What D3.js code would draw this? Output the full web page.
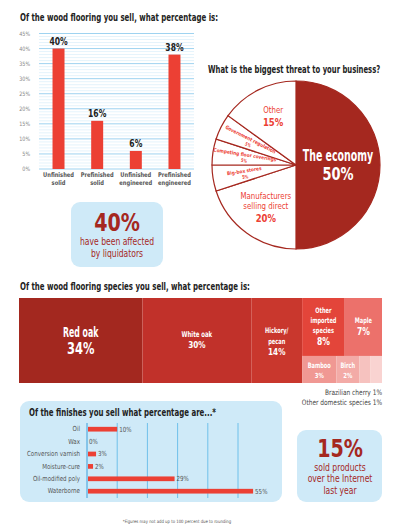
<!DOCTYPE html>
<html>
<head>
<meta charset="utf-8">
<script src="https://cdn.jsdelivr.net/npm/d3@7"></script>
<style>
  body { margin: 0; background: #fff; }
  svg { display: block; }
  text { font-family: "Liberation Sans Narrow", "DejaVu Sans Condensed", "Roboto", sans-serif; }
</style>
</head>
<body>
<script>
// --- data ---
const floorTypes = ['Unfinished|solid', 'Prefinished|solid', 'Unfinished|engineered', 'Prefinished|engineered'];
const floorShares = [40, 16, 6, 38];
const floorTicks = [0, 5, 10, 15, 20, 25, 30, 35, 40, 45];

const threats = ['The economy', 'Manufacturers selling direct', 'Big-box stores', 'Competing floor coverings', 'Government regulation', 'Other'];
const threatShares = [50, 20, 5, 5, 5, 15];

const species = ['Red oak', 'White oak', 'Hickory/ pecan', 'Other imported species', 'Maple', 'Bamboo', 'Birch', 'Brazilian cherry', 'Other domestic species'];
const speciesShares = [34, 30, 14, 8, 7, 3, 2, 1, 1];

const finishes = ['Oil', 'Wax', 'Conversion varnish', 'Moisture-cure', 'Oil-modified poly', 'Waterborne'];
const finishShares = [10, 0, 3, 2, 29, 55];
const finishTicks = [0, 10, 20, 30, 40, 50];

const DARK = '#a5281f', RED = '#ec4034', BLUE = '#cfeaf8';

const svg = d3.select('body').append('svg')
    .attr('width', 400).attr('height', 531);

function title(x, y, s) {
    svg.append('text').attr('x', x).attr('y', y)
	.attr('font-size', 10).attr('font-weight', 'bold').attr('fill', '#222')
	.text(s);
}

// ---------- bar chart: wood flooring ----------
title(20, 21, 'Of the wood flooring you sell, what percentage is:');

const bx = d3.scaleBand().domain(floorTypes).range([39, 194]).paddingInner(0.69).paddingOuter(0.35);
const by = d3.scaleLinear().domain([0, 45]).range([169, 33.5]);

const barG = svg.append('g');
barG.selectAll('line.minor')
    .data(d3.range(0, 46))
    .enter().append('line')
    .attr('x1', 39).attr('x2', 194)
    .attr('y1', d => by(d)).attr('y2', d => by(d))
    .attr('stroke', d => d % 5 === 0 ? '#9fd3f0' : '#d9eef9')
    .attr('stroke-width', d => d % 5 === 0 ? 1 : 0.7);

barG.append('g')
    .attr('transform', 'translate(33,0)')
    .call(d3.axisLeft(by).tickValues(floorTicks).tickSize(0).tickFormat(d => d + '%'))
    .call(g => g.select('.domain').remove())
    .call(g => g.selectAll('text').attr('font-size', 6).attr('fill', '#888').attr('data-c', 0.9)
	  .attr('font-family', '"Liberation Sans Narrow", "DejaVu Sans Condensed", sans-serif'));

barG.selectAll('rect.bar')
    .data(floorShares)
    .enter().append('rect')
    .attr('x', (d, i) => bx(floorTypes[i]))
    .attr('width', bx.bandwidth())
    .attr('y', d => by(d))
    .attr('height', d => by(0) - by(d))
    .attr('fill', RED);

barG.selectAll('text.val')
    .data(floorShares)
    .enter().append('text')
    .attr('x', (d, i) => bx(floorTypes[i]) + bx.bandwidth() / 2)
    .attr('y', d => by(d) - 4)
    .attr('text-anchor', 'middle')
    .attr('font-size', 10).attr('font-weight', 'bold').attr('fill', '#222').attr('data-c', 0.85)
    .text(d => d + '%');

floorTypes.forEach(c => {
    c.split('|').forEach((s, j) => barG.append('text')
	.attr('x', bx(c) + bx.bandwidth() / 2)
	.attr('y', 177.5 + j * 8)
	.attr('text-anchor', 'middle')
	.attr('font-size', 6.5).attr('font-weight', 'bold').attr('fill', '#555').attr('data-c', 0.88)
	.text(s));
});

// ---------- callout boxes ----------
function callout(x, y, w, h, big, lines, cx, y0, dy) {
    svg.append('rect').attr('x', x).attr('y', y).attr('width', w).attr('height', h)
	.attr('rx', 9).attr('fill', BLUE);
    svg.append('text').attr('x', cx).attr('y', y0)
	.attr('text-anchor', 'middle').attr('font-size', 25)
	.attr('font-weight', 'bold').attr('fill', DARK).attr('data-c', 0.85).text(big);
    lines.forEach((s, i) => svg.append('text')
	.attr('x', cx).attr('y', y0 + 14 + i * dy)
	.attr('text-anchor', 'middle').attr('font-size', 10)
	.attr('fill', DARK).attr('data-c', 0.85).text(s));
}
callout(71, 202, 92, 65, '40%', ['have been affected', 'by liquidators'], 117, 231, 12);

// ---------- pie chart ----------
svg.append('text').attr('x', 208).attr('y', 73)
    .attr('font-size', 10).attr('font-weight', 'bold').attr('fill', '#222').attr('data-c', 0.76)
    .text('What is the biggest threat to your business?');

const pcx = 296, pcy = 165, pr = 84;
const pie = d3.pie().sort(null)(threatShares);
const arc = d3.arc().innerRadius(0).outerRadius(pr);
const ring = k => d3.arc().innerRadius(pr * k).outerRadius(pr * k);
const pieG = svg.append('g').attr('transform', `translate(${pcx},${pcy})`);

pieG.selectAll('path')
    .data(pie)
    .enter().append('path')
    .attr('d', arc)
    .attr('fill', (d, i) => i === 0 ? DARK : '#fff')
    .attr('stroke', DARK).attr('stroke-width', 1.2);

// economy
pieG.append('text').attr('x', 42).attr('y', -4.5).attr('text-anchor', 'middle')
    .attr('font-size', 15).attr('font-weight', 'bold').attr('fill', '#fff').attr('data-c', 0.7)
    .text(threats[0]);
pieG.append('text').attr('x', 42).attr('y', 15).attr('text-anchor', 'middle')
    .attr('font-size', 17).attr('font-weight', 'bold').attr('fill', '#fff').attr('data-c', 0.85)
    .text(threatShares[0] + '%');
// manufacturers
const mfg = ring(0.55).centroid(pie[1]);
['Manufacturers', 'selling direct'].forEach((s, i) => pieG.append('text')
    .attr('x', mfg[0] - 3).attr('y', mfg[1] - 3 + i * 10).attr('text-anchor', 'middle')
    .attr('font-size', 8.5).attr('fill', RED).attr('data-c', 0.92).text(s));
pieG.append('text').attr('x', mfg[0] - 3).attr('y', mfg[1] + 20).attr('text-anchor', 'middle')
    .attr('font-size', 10.5).attr('font-weight', 'bold').attr('fill', RED).attr('data-c', 0.9)
    .text(threatShares[1] + '%');
// other
const oth = ring(0.6).centroid(pie[5]);
pieG.append('text').attr('x', oth[0]).attr('y', oth[1] - 7).attr('text-anchor', 'middle')
    .attr('font-size', 8.5).attr('fill', RED).attr('data-c', 0.92).text(threats[5]);
pieG.append('text').attr('x', oth[0]).attr('y', oth[1] + 6).attr('text-anchor', 'middle')
    .attr('font-size', 10.5).attr('font-weight', 'bold').attr('fill', RED).attr('data-c', 0.9)
    .text(threatShares[5] + '%');
// small slices, set along the radius
[2, 3, 4].forEach(i => {
    const a = (pie[i].startAngle + pie[i].endAngle) / 2;
    const c = ring(0.62).centroid(pie[i]);
    const g = pieG.append('g')
	  .attr('transform', `translate(${c[0]},${c[1]}) rotate(${a * 180 / Math.PI - 270})`);
    g.append('text').attr('y', -0.5).attr('text-anchor', 'middle')
	.attr('font-size', 5).attr('font-weight', 'bold').attr('fill', RED).attr('data-c', 0.95)
	.text(threats[i]);
    g.append('text').attr('y', 5.5).attr('text-anchor', 'middle')
	.attr('font-size', 5).attr('font-weight', 'bold').attr('fill', RED)
	.text(threatShares[i] + '%');
});

// ---------- treemap: species ----------
title(20, 290, 'Of the wood flooring species you sell, what percentage is:');

const tree = {
    children: [
	{ name: 0 }, { name: 1 }, { name: 2 },
	{ children: [
	    { children: [{ name: 3 }, { name: 4 }] },
	    { children: [{ name: 5 }, { name: 6 }, { name: 7 }, { name: 8 }] }
	] }
    ]
};
const root = d3.hierarchy(tree).sum(d => d.name !== undefined ? speciesShares[d.name] : 0);
d3.treemap().tile(d3.treemapSliceDice).size([363, 85])(root);

const speciesColors = ['#a3281f', '#c1312a', '#c9372d', '#e3453a', '#ec716b', '#f09893', '#f3aba7', '#f6c2bf', '#f9d3d1'];
const tmG = svg.append('g').attr('transform', 'translate(19,298)');
const leaves = root.leaves();
tmG.selectAll('rect')
    .data(leaves)
    .enter().append('rect')
    .attr('x', d => d.x0).attr('y', d => d.y0)
    .attr('width', d => d.x1 - d.x0).attr('height', d => d.y1 - d.y0)
    .attr('fill', d => speciesColors[d.data.name]);

// label lines, baseline offsets from the cell top, font sizes, condensing
const tmLabels = {
    0: { lines: ['Red oak'], ys: [39], ls: 14, py: 56, ps: 15, c: 0.62 },
    1: { lines: ['White oak'], ys: [39], ls: 8, py: 50, ps: 9.5, c: 0.75 },
    2: { lines: ['Hickory/', 'pecan'], ys: [35, 46], ls: 7.5, py: 57, ps: 9.5, c: 0.75 },
    3: { lines: ['Other', 'imported', 'species'], ys: [15, 25, 35], ls: 7.5, py: 47, ps: 10, c: 0.75 },
    4: { lines: ['Maple'], ys: [25], ls: 7.5, py: 37, ps: 10, c: 0.75 },
    5: { lines: ['Bamboo'], ys: [12], ls: 7.5, py: 22, ps: 7, c: 0.75 },
    6: { lines: ['Birch'], ys: [12], ls: 7.5, py: 22, ps: 7, c: 0.75 }
};
leaves.forEach(d => {
    const L = tmLabels[d.data.name];
    if (!L) return;
    const cx = (d.x0 + d.x1) / 2;
    L.lines.forEach((s, i) => tmG.append('text')
	.attr('x', cx).attr('y', d.y0 + L.ys[i])
	.attr('text-anchor', 'middle').attr('font-size', L.ls)
	.attr('font-weight', 'bold').attr('fill', '#fff').attr('data-c', L.c).text(s));
    tmG.append('text')
	.attr('x', cx).attr('y', d.y0 + L.py)
	.attr('text-anchor', 'middle').attr('font-size', L.ps)
	.attr('font-weight', 'bold').attr('fill', '#fff').attr('data-c', 0.85)
	.text(speciesShares[d.data.name] + '%');
});
[7, 8].forEach((k, i) => svg.append('text')
    .attr('x', 382).attr('y', 395 + i * 10).attr('text-anchor', 'end')
    .attr('font-size', 7.5).attr('fill', '#444').attr('data-c', 0.87)
    .text(species[k] + ' ' + speciesShares[k] + '%'));

// ---------- finishes box ----------
svg.append('rect').attr('x', 20).attr('y', 401).attr('width', 262).attr('height', 101)
    .attr('rx', 9).attr('fill', BLUE);
svg.append('text').attr('x', 29).attr('y', 416)
    .attr('font-size', 10).attr('font-weight', 'bold').attr('fill', '#222')
    .text('Of the finishes you sell what percentage are...*');

const fx = d3.scaleLinear().domain([0, 50]).range([87, 238]);
const fy = d3.scaleBand().domain(finishes).range([423, 497.4]).paddingInner(0.62).paddingOuter(0.31);

svg.append('g').selectAll('line')
    .data(finishTicks)
    .enter().append('line')
    .attr('x1', d => fx(d)).attr('x2', d => fx(d))
    .attr('y1', 423).attr('y2', 498)
    .attr('stroke', d => d === 0 ? '#3aa0dc' : '#6fc0ea').attr('stroke-width', 1);

svg.append('g').selectAll('rect')
    .data(finishShares)
    .enter().append('rect')
    .attr('x', fx(0) + 1)
    .attr('y', (d, i) => fy(finishes[i]))
    .attr('width', d => Math.max(0, fx(d) - fx(0) - 1))
    .attr('height', fy.bandwidth())
    .attr('fill', RED);

svg.append('g')
    .attr('transform', `translate(${fx(0) - 4},0)`)
    .call(d3.axisLeft(fy).tickSize(0))
    .call(g => g.select('.domain').remove())
    .call(g => g.selectAll('text').attr('font-size', 7).attr('fill', '#555').attr('data-c', 0.88)
	  .attr('font-family', '"Liberation Sans Narrow", "DejaVu Sans Condensed", sans-serif'));

svg.append('g').selectAll('text')
    .data(finishShares)
    .enter().append('text')
    .attr('x', d => fx(d) + 2)
    .attr('y', (d, i) => fy(finishes[i]) + fy.bandwidth() / 2 + 2.5)
    .attr('font-size', 7).attr('fill', '#555').attr('data-c', 0.88)
    .text(d => d + '%');

svg.append('text').attr('x', 177).attr('y', 523).attr('text-anchor', 'middle')
    .attr('font-size', 4.5).attr('fill', '#555').attr('data-c', 0.95)
    .text('*Figures may not add up to 100 percent due to rounding');

// ---------- internet box ----------
callout(297, 430, 85, 72, '15%', ['sold products', 'over the Internet', 'last year'], 340, 457, 11.5);

// squeeze the text horizontally around its anchor, the way a condensed face would look
svg.selectAll('text').each(function () {
    const r = +(this.getAttribute('data-c') || 0.78);
    const x = +(this.getAttribute('x') || 0);
    const y = +(this.getAttribute('y') || 0);
    this.setAttribute('transform', `translate(${x},${y}) scale(${r},1) translate(${-x},${-y})`);
});
</script>
</body>
</html>
